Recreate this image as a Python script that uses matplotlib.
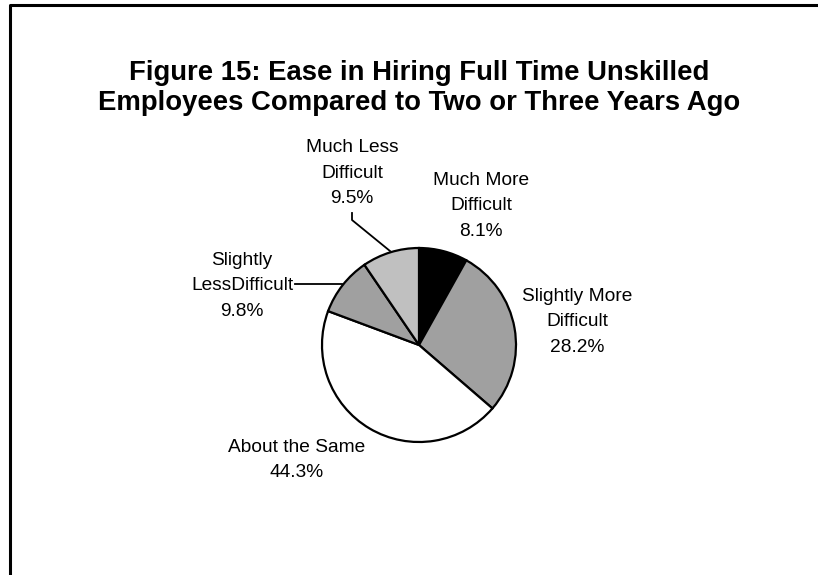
import matplotlib.pyplot as plt
from matplotlib.lines import Line2D

categories = ["Much More\nDifficult", "Slightly More\nDifficult", "About the Same",
              "Slightly\nLessDifficult", "Much Less\nDifficult"]
shares = [8.1, 28.2, 44.3, 9.8, 9.5]
colors = ["#000000", "#a0a0a0", "#ffffff", "#a0a0a0", "#c0c0c0"]

plt.rcParams['font.family'] = ['Liberation Sans', 'DejaVu Sans']

W, H = 818, 575
fig = plt.figure(figsize=(W / 100, H / 100), dpi=100)


def fx(x, y):
    # pixel position (from top left) -> figure fraction
    return x / W, 1 - y / H


# pie centred at (419, 345) px with radius 97 px
cx, cy, r = 419, 345, 97
ax = fig.add_axes([(cx - r) / W, 1 - (cy + r) / H, 2 * r / W, 2 * r / H])
ax.pie(shares, colors=colors, startangle=90, counterclock=False,
       wedgeprops=dict(edgecolor="black", linewidth=1.6))
ax.set_xlim(-1, 1)
ax.set_ylim(-1, 1)
ax.axis("off")

fig.text(*fx(419, 88), "Figure 15: Ease in Hiring Full Time Unskilled\n"
         "Employees Compared to Two or Three Years Ago",
         ha="center", va="center", fontsize=19.8, fontweight="bold",
         linespacing=1.2)

label_pos = [(481, 206), (577, 322), (297, 460), (242, 286), (352, 173)]
for name, val, (x, y) in zip(categories, shares, label_pos):
    fig.text(*fx(x, y), f"{name}\n{val:.1f}%", ha="center", va="center",
             fontsize=13.8, linespacing=1.62)

# leader lines
for pts in ([(352, 213), (352, 220), (390, 251)],
            [(295, 284), (342, 284)]):
    xs, ys = zip(*[fx(*p) for p in pts])
    fig.add_artist(Line2D(xs, ys, color="black", lw=1.3))

# outer frame (top and left edges)
xs, ys = zip(*[fx(10, H), fx(10, 5), fx(W, 5)])
fig.add_artist(Line2D(xs, ys, color="black", lw=2.2))

fig.savefig("out.png", dpi=100, facecolor="white")
